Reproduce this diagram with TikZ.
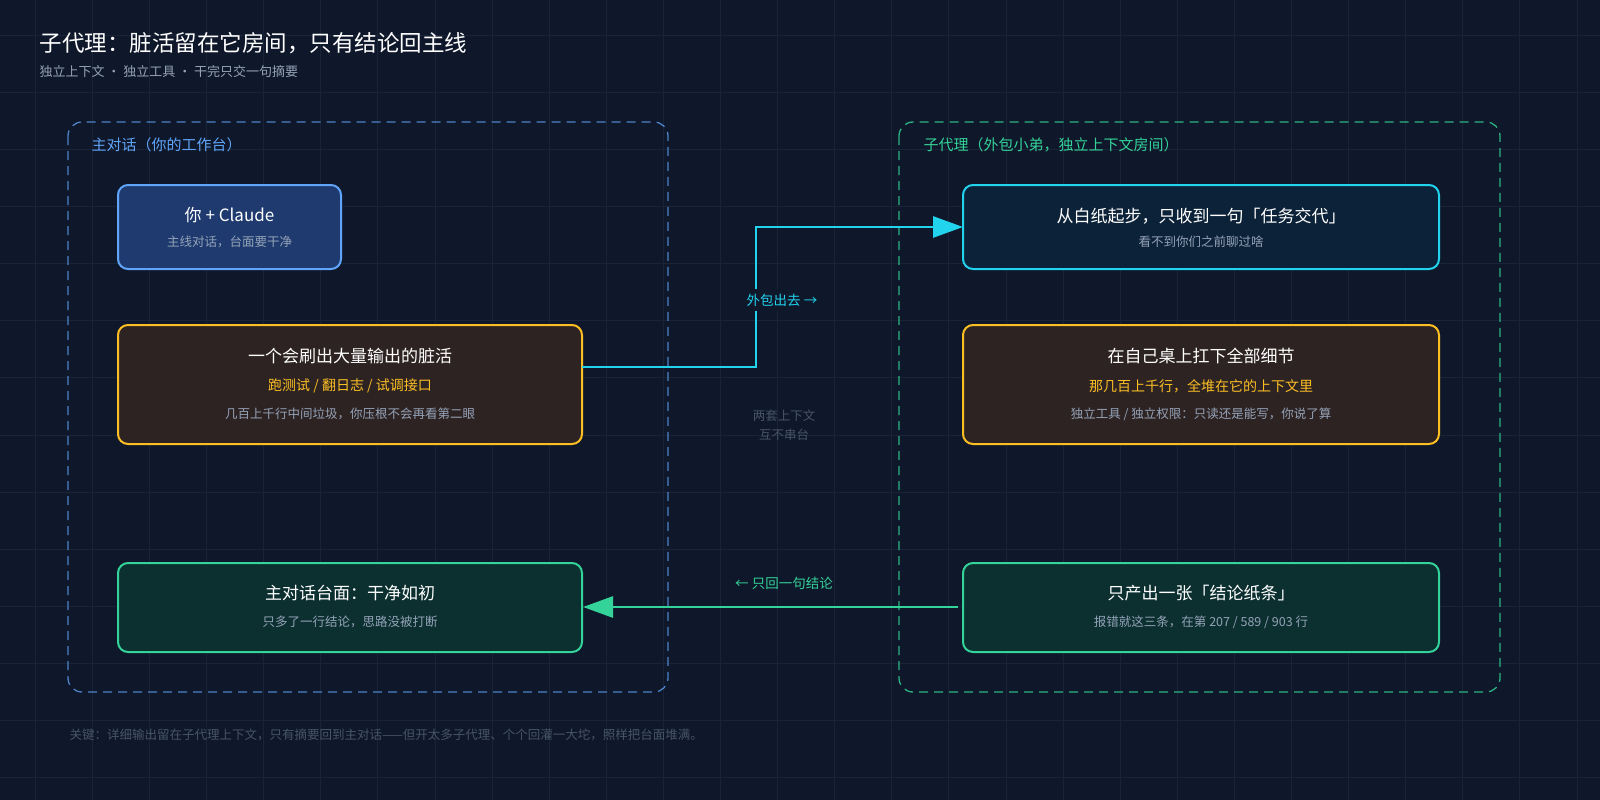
\documentclass[tikz,border=0pt]{standalone}
\usepackage{fontspec}
\setmainfont{Noto Sans CJK SC}
\usetikzlibrary{arrows.meta,positioning}
\definecolor{bgc}{HTML}{0F172A}
\definecolor{gridc}{HTML}{1A2438}
\definecolor{blueln}{HTML}{60A5FA}
\definecolor{bluefl}{HTML}{1E3A6E}
\definecolor{amberln}{HTML}{FBBF24}
\definecolor{amberfl}{HTML}{2E2323}
\definecolor{greenln}{HTML}{34D399}
\definecolor{greenfl}{HTML}{0C2F30}
\definecolor{cyanln}{HTML}{22D3EE}
\definecolor{cyanfl}{HTML}{0C2238}
\definecolor{subc}{HTML}{94A3B8}
\definecolor{dimc}{HTML}{475569}
\newcommand{\fs}[1]{\fontsize{#1pt}{#1pt}\selectfont}
\tikzset{
  room/.style={draw=#1, dashed, dash pattern=on 9pt off 6pt, line width=1.3pt, rounded corners=14pt},
  card/.style={draw=#1, line width=2pt, rounded corners=10pt},
  ttl/.style={text=white, font=\fs{17}},
  sub/.style={text=subc, font=\fs{12.5}},
  flow/.style={line width=2.8pt, -{Triangle[length=30pt,width=21pt]}}
}
\begin{document}
\begin{tikzpicture}[x=1pt,y=-1pt]
\useasboundingbox (0,0) rectangle (1600,800);
\fill[bgc] (0,0) rectangle (1600,800);
\foreach \i in {1,...,28} \draw[gridc, line width=0.6pt] (\i*57.1-22,0) -- (\i*57.1-22,800);
\foreach \j in {1,...,14} \draw[gridc, line width=0.6pt] (0,\j*57.1-22) -- (1600,\j*57.1-22);
% heading
\node[anchor=west, text=white, font=\fs{22.5}] (title) at (36,43) {子代理：脏活留在它房间，只有结论回主线};
\node[anchor=west, text=subc, font=\fs{13}] (subtitle) at (36,72) {独立上下文 · 独立工具 · 干完只交一句摘要};
% rooms
\draw[room=blueln!80!black] (68,122) rectangle (668,692);
\node[anchor=west, text=blueln, font=\fs{15}] (mainlbl) at (88,145) {主对话（你的工作台）};
\draw[room=greenln!85!black] (899,122) rectangle (1500,692);
\node[anchor=west, text=greenln, font=\fs{15}] (sublbl) at (920,145) {子代理（外包小弟，独立上下文房间）};
% left cards
\draw[card=blueln, fill=bluefl] (118,185) rectangle (341,269);
\node[ttl] (you) at (229.5,215) {你 + Claude};
\node[sub] (youS) at (229.5,242) {主线对话，台面要干净};
\draw[card=amberln, fill=amberfl] (118,325) rectangle (582,444);
\coordinate (dirtyE) at (582,367);
\node[ttl] (dirty) at (350,356) {一个会刷出大量输出的脏活};
\node[text=amberln, font=\fs{14}] (dirtyA) at (350,386) {跑测试 / 翻日志 / 试调接口};
\node[sub] (dirtyS) at (350,414) {几百上千行中间垃圾，你压根不会再看第二眼};
\draw[card=greenln, fill=greenfl] (118,563) rectangle (582,652);
\coordinate (cleanE) at (583,607);
\node[ttl] (clean) at (350,593) {主对话台面：干净如初};
\node[sub] (cleanS) at (350,622) {只多了一行结论，思路没被打断};
% right cards
\draw[card=cyanln, fill=cyanfl] (963,185) rectangle (1439,269);
\coordinate (blankW) at (963,227);
\node[ttl] (blank) at (1201,216) {从白纸起步，只收到一句「任务交代」};
\node[sub] (blankS) at (1201,242) {看不到你们之前聊过啥};
\draw[card=amberln, fill=amberfl] (963,325) rectangle (1439,444);
\node[ttl] (desk) at (1201,356) {在自己桌上扛下全部细节};
\node[text=amberln, font=\fs{14}] (deskA) at (1201,386) {那几百上千行，全堆在它的上下文里};
\node[sub] (deskS) at (1201,414) {独立工具 / 独立权限：只读还是能写，你说了算};
\draw[card=greenln, fill=greenfl] (963,563) rectangle (1439,652);
\coordinate (noteW) at (958,607);
\node[ttl] (note) at (1201,593) {只产出一张「结论纸条」};
\node[sub] (noteS) at (1201,622) {报错就这三条，在第 207 / 589 / 903 行};
% flows
\draw[flow, cyanln] (dirtyE) -- (756,367) -- (756,227) -- (blankW);
\node[fill=bgc, text=cyanln, font=\fs{13.5}, inner sep=5pt] (outLbl) at (782,300) {外包出去 →};
\draw[flow, greenln] (noteW) -- (cleanE);
\node[text=greenln, font=\fs{13.5}] (backLbl) at (784,583) {← 只回一句结论};
\node[text=dimc, font=\fs{12.5}, align=center] (apart) at (784,425) {两套上下文\\[6pt]互不串台};
\node[anchor=west, text=dimc, font=\fs{12.5}] (footer) at (66,735) {关键：详细输出留在子代理上下文，只有摘要回到主对话——但开太多子代理、个个回灌一大坨，照样把台面堆满。};
\end{tikzpicture}
\end{document}
